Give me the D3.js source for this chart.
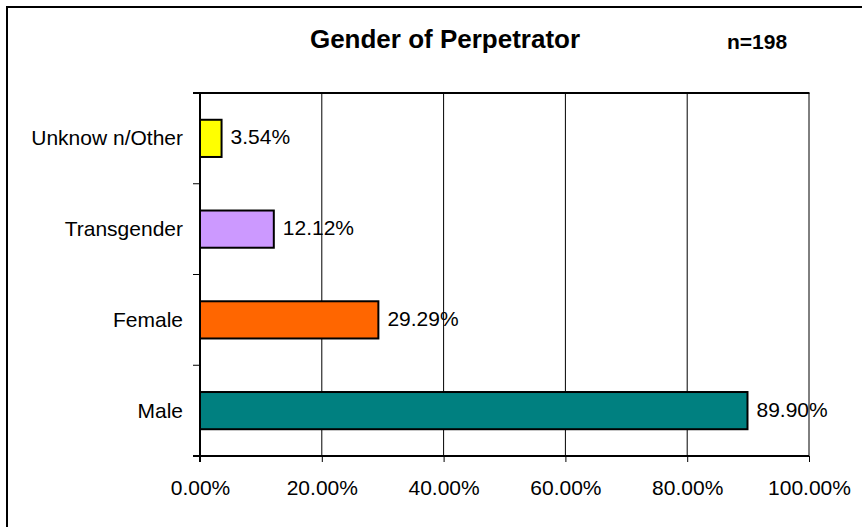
<!DOCTYPE html>
<html>
<head>
<meta charset="utf-8">
<script src="https://cdn.jsdelivr.net/npm/d3@7"></script>
<style>
  html, body { margin: 0; padding: 0; background: #fff; }
  svg { display: block; font-family: "Liberation Sans", Arial, sans-serif; }
</style>
</head>
<body>
<svg id="chart" width="862" height="527"></svg>
<script>
// ---- Data ----
const categories = ["Unknow n/Other", "Transgender", "Female", "Male"];
const values = [0.0354, 0.1212, 0.2929, 0.8990];
const colors = ["#FFFF00", "#CC99FF", "#FF6600", "#008080"];
const xTicks = [0, 0.2, 0.4, 0.6, 0.8, 1.0];
const titleText = "Gender of Perpetrator";
const nText = "n=198";

// ---- Layout ----
const svg = d3.select("#chart");
const plot = { left: 200, right: 809, top: 93, bottom: 456 };

// outer border (right/bottom fall outside the canvas)
svg.append("rect")
  .attr("x", 7).attr("y", 7)
  .attr("width", 870).attr("height", 540)
  .attr("fill", "none").attr("stroke", "#000").attr("stroke-width", 2);

const x = d3.scaleLinear().domain([0, 1]).range([plot.left, plot.right]);
const y = d3.scaleBand().domain(categories)
  .range([plot.top, plot.bottom])
  .paddingInner(0.59).paddingOuter(0.295);

// vertical gridlines
svg.append("g").selectAll("line")
  .data(xTicks.filter(d => d > 0))
  .join("line")
  .attr("x1", d => x(d)).attr("x2", d => x(d))
  .attr("y1", plot.top).attr("y2", plot.bottom)
  .attr("stroke", "#000").attr("stroke-width", 1);

// top border of plot area
svg.append("line")
  .attr("x1", plot.left - 7).attr("x2", plot.right + 0.5)
  .attr("y1", plot.top).attr("y2", plot.top)
  .attr("stroke", "#000").attr("stroke-width", 2);

// bars
svg.append("g").selectAll("rect")
  .data(categories)
  .join("rect")
  .attr("x", plot.left)
  .attr("y", d => y(d))
  .attr("width", (d, i) => x(values[i]) - x(0))
  .attr("height", y.bandwidth())
  .attr("fill", (d, i) => colors[i])
  .attr("stroke", "#000").attr("stroke-width", 2);

// value labels
const fmt = d3.format(".2%");
svg.append("g").selectAll("text")
  .data(categories)
  .join("text")
  .attr("x", (d, i) => x(values[i]) + 9)
  .attr("y", d => y(d) + y.bandwidth() / 2 + 6)
  .attr("font-size", 21)
  .attr("fill", "#000")
  .text((d, i) => fmt(values[i]));

// x axis
const xAxis = d3.axisBottom(x).tickValues(xTicks).tickFormat(fmt).tickSize(6).tickSizeOuter(0);
const gx = svg.append("g").attr("transform", `translate(0,${plot.bottom})`).call(xAxis);
gx.select(".domain").attr("stroke", "#000").attr("stroke-width", 2)
  .attr("d", `M${plot.left - 7},0H${plot.right}`);
gx.selectAll(".tick line").attr("stroke", "#000").attr("stroke-width", 1);
gx.selectAll(".tick text")
  .attr("y", 39).attr("dy", 0)
  .attr("font-size", 21).attr("font-family", "Liberation Sans, Arial, sans-serif")
  .attr("fill", "#000");

// y axis (labels only, ticks at band boundaries)
const yAxis = d3.axisLeft(y).tickSize(0).tickPadding(17);
const gy = svg.append("g").attr("transform", `translate(${plot.left},0)`).call(yAxis);
gy.select(".domain").remove();
gy.selectAll(".tick text")
  .attr("dy", "0.33em")
  .attr("font-size", 21).attr("font-family", "Liberation Sans, Arial, sans-serif")
  .attr("fill", "#000");

const gap = (y.step() - y.bandwidth()) / 2;
const boundaries = categories.map(c => y(c) - gap).concat([y(categories[categories.length - 1]) + y.bandwidth() + gap]);
svg.append("g").selectAll("line")
  .data(boundaries)
  .join("line")
  .attr("x1", plot.left - 7).attr("x2", plot.left)
  .attr("y1", d => d).attr("y2", d => d)
  .attr("stroke", "#000").attr("stroke-width", 1);

svg.append("line")
  .attr("x1", plot.left).attr("x2", plot.left)
  .attr("y1", plot.top - 1).attr("y2", plot.bottom + 6)
  .attr("stroke", "#000").attr("stroke-width", 2);

// titles
svg.append("text")
  .attr("x", 445).attr("y", 48)
  .attr("text-anchor", "middle")
  .attr("font-size", 26).attr("font-weight", "bold")
  .text(titleText);

svg.append("text")
  .attr("x", 727).attr("y", 49)
  .attr("font-size", 21).attr("font-weight", "bold")
  .text(nText);
</script>
</body>
</html>
